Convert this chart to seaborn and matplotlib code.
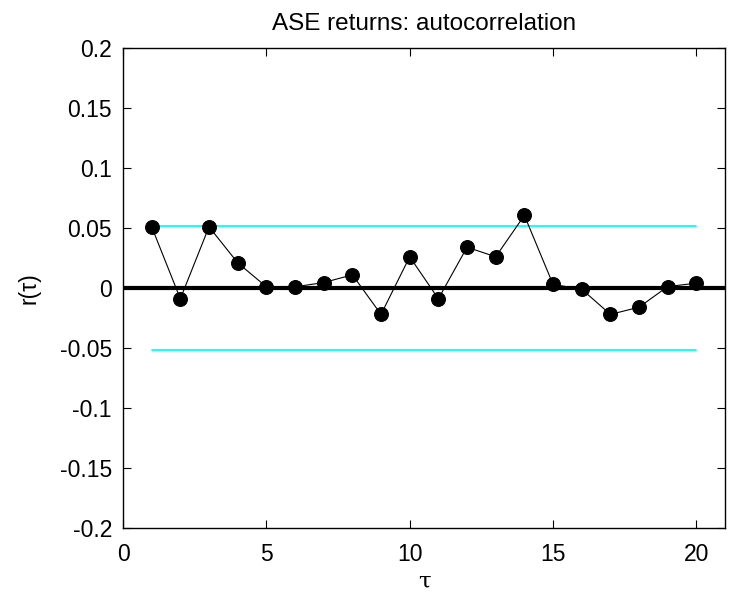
import matplotlib
matplotlib.use("Agg")
import matplotlib.pyplot as plt
import seaborn as sns
import numpy as np
import pandas as pd

# Sample autocorrelation of ASE returns for lags 1..20
lags = [1, 2, 3, 4, 5, 6, 7, 8, 9, 10, 11, 12, 13, 14, 15, 16, 17, 18, 19, 20]
acf = [0.051, -0.009, 0.051, 0.021, 0.001, 0.001, 0.0045, 0.011, -0.022, 0.026,
       -0.009, 0.034, 0.026, 0.0605, 0.003, -0.001, -0.022, -0.016, 0.0012, 0.004]
conf_bound = 0.0515

sns.set_style("ticks")
plt.rcParams["font.family"] = ["Liberation Sans", "DejaVu Sans"]
plt.rcParams["text.color"] = "black"
plt.rcParams["axes.labelcolor"] = "black"

fig = plt.figure(figsize=(7.41, 5.97), dpi=100)
ax = fig.add_axes([0.166, 0.1156, 0.8125, 0.804])

df = pd.DataFrame({"lag": lags, "r": acf})
bounds = pd.DataFrame({"lag": [lags[0], lags[-1]], "up": [conf_bound] * 2, "lo": [-conf_bound] * 2})

sns.lineplot(data=bounds, x="lag", y="up", color="#00FFFF", linewidth=1.3, ax=ax)
sns.lineplot(data=bounds, x="lag", y="lo", color="#00FFFF", linewidth=1.3, ax=ax)
ax.axhline(0, color="black", linewidth=3, zorder=2)
sns.lineplot(data=df, x="lag", y="r", color="black", linewidth=0.8,
             marker="o", markersize=10, markeredgecolor="black", ax=ax, zorder=3)

ax.set_xlim(0, 21)
ax.set_ylim(-0.2, 0.2)
ax.set_xticks([0, 5, 10, 15, 20])
ax.set_xticklabels(["0", "5", "10", "15", "20"])
yt = [-0.2, -0.15, -0.1, -0.05, 0, 0.05, 0.1, 0.15, 0.2]
ax.set_yticks(yt)
ax.set_yticklabels(["-0.2", "-0.15", "-0.1", "-0.05", "0", "0.05", "0.1", "0.15", "0.2"])

ax.tick_params(direction="in", length=6, width=0.8, labelsize=16.5,
               top=True, right=True, colors="black")
ax.tick_params(axis="y", pad=8)
ax.tick_params(axis="x", pad=11)
for s in ax.spines.values():
    s.set_linewidth(1.0)
    s.set_color("black")

ax.set_xlabel("τ", fontsize=16.5, family=["DejaVu Serif"], labelpad=3)
ax.set_ylabel("r(τ)", fontsize=16.5, labelpad=14)
ax.set_title("ASE returns: autocorrelation", fontsize=17.5, pad=13)

fig.savefig("out.png", dpi=100)
